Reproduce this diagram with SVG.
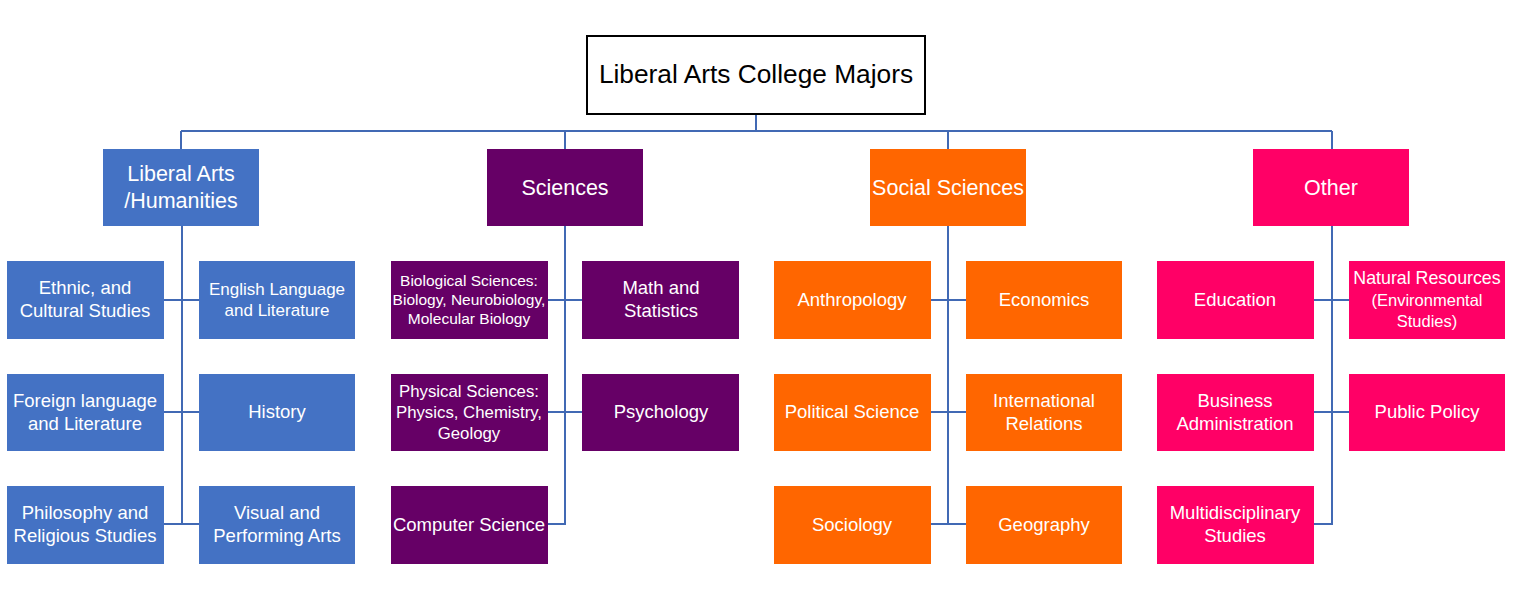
<svg xmlns="http://www.w3.org/2000/svg" width="1517" height="600" viewBox="0 0 1517 600">
<style>
text{font-family:"Liberation Sans",Arial,sans-serif;fill:#fff;text-anchor:middle}
.c{font-size:18.5px}
.cat{font-size:21.5px}
.blue{fill:#4472C4}
.purple{fill:#660066}
.orange{fill:#FF6600}
.pink{fill:#FF0066}
.conn{fill:none;stroke:#4169B4;stroke-width:2}
</style>
<rect width="1517" height="600" fill="#fff"/>
<g id="connectors" class="conn">
<path d="M756 115V131M181 131H1332M181 131V149M565 131V149M948 131V149M1332 131V149"/>
<path d="M182 226V524M164 300H199M164 412H199M164 524H199"/>
<path d="M565 226V524H548M548 300H582M548 412H582"/>
<path d="M948 226V524M931 300H966M931 412H966M931 524H966"/>
<path d="M1332 226V524H1314M1314 300H1349M1314 412H1349"/>
</g>
<g id="root"><rect x="587" y="36" width="338" height="78" fill="#fff" stroke="#000" stroke-width="2"/><text x="756" y="83" style="fill:#000;font-size:26.3px">Liberal Arts College Majors</text></g>
<g id="cat-liberal"><rect class="blue" x="103" y="149" width="156" height="77"/><text class="cat" x="181" y="181">Liberal Arts</text><text class="cat" x="181" y="208">/Humanities</text></g>
<g id="cat-sciences"><rect class="purple" x="487" y="149" width="156" height="77"/><text class="cat" x="565" y="195">Sciences</text></g>
<g id="cat-social"><rect class="orange" x="870" y="149" width="156" height="77"/><text class="cat" x="948" y="195">Social Sciences</text></g>
<g id="cat-other"><rect class="pink" x="1253" y="149" width="156" height="77"/><text class="cat" x="1331" y="195">Other</text></g>

<g id="ethnic"><rect class="blue" x="7" y="261" width="157" height="78"/><text class="c" x="85" y="294">Ethnic, and</text><text class="c" x="85" y="317">Cultural Studies</text></g>
<g id="english"><rect class="blue" x="199" y="261" width="156" height="78"/><text x="277" y="295" style="font-size:17px">English Language</text><text x="277" y="316" style="font-size:17px">and Literature</text></g>
<g id="foreign"><rect class="blue" x="7" y="374" width="157" height="77"/><text class="c" x="85" y="407">Foreign language</text><text class="c" x="85" y="430">and Literature</text></g>
<g id="history"><rect class="blue" x="199" y="374" width="156" height="77"/><text class="c" x="277" y="418">History</text></g>
<g id="philosophy"><rect class="blue" x="7" y="486" width="157" height="78"/><text class="c" x="85" y="519">Philosophy and</text><text class="c" x="85" y="542">Religious Studies</text></g>
<g id="visual"><rect class="blue" x="199" y="486" width="156" height="78"/><text class="c" x="277" y="519">Visual and</text><text class="c" x="277" y="542">Performing Arts</text></g>

<g id="bio"><rect class="purple" x="391" y="261" width="157" height="78"/><text x="469" y="286" style="font-size:15.5px">Biological Sciences:</text><text x="469" y="305" style="font-size:15.5px">Biology, Neurobiology,</text><text x="469" y="324" style="font-size:15.5px">Molecular Biology</text></g>
<g id="math"><rect class="purple" x="582" y="261" width="157" height="78"/><text class="c" x="661" y="294">Math and</text><text class="c" x="661" y="317">Statistics</text></g>
<g id="physical"><rect class="purple" x="391" y="374" width="157" height="77"/><text x="469" y="397" style="font-size:16.8px">Physical Sciences:</text><text x="469" y="418" style="font-size:16.8px">Physics, Chemistry,</text><text x="469" y="439" style="font-size:16.8px">Geology</text></g>
<g id="psychology"><rect class="purple" x="582" y="374" width="157" height="77"/><text class="c" x="661" y="418">Psychology</text></g>
<g id="computer"><rect class="purple" x="391" y="486" width="157" height="78"/><text class="c" x="469" y="531">Computer Science</text></g>

<g id="anthropology"><rect class="orange" x="774" y="261" width="157" height="78"/><text class="c" x="852" y="306">Anthropology</text></g>
<g id="economics"><rect class="orange" x="966" y="261" width="156" height="78"/><text class="c" x="1044" y="306">Economics</text></g>
<g id="political"><rect class="orange" x="774" y="374" width="157" height="77"/><text class="c" x="852" y="418">Political Science</text></g>
<g id="international"><rect class="orange" x="966" y="374" width="156" height="77"/><text class="c" x="1044" y="407">International</text><text class="c" x="1044" y="430">Relations</text></g>
<g id="sociology"><rect class="orange" x="774" y="486" width="157" height="78"/><text class="c" x="852" y="531">Sociology</text></g>
<g id="geography"><rect class="orange" x="966" y="486" width="156" height="78"/><text class="c" x="1044" y="531">Geography</text></g>

<g id="education"><rect class="pink" x="1157" y="261" width="157" height="78"/><text class="c" x="1235" y="306">Education</text></g>
<g id="natural"><rect class="pink" x="1349" y="261" width="156" height="78"/><text x="1427" y="284" style="font-size:17.8px">Natural Resources</text><text x="1427" y="306" style="font-size:16.5px">(Environmental</text><text x="1427" y="327" style="font-size:16.5px">Studies)</text></g>
<g id="business"><rect class="pink" x="1157" y="374" width="157" height="77"/><text class="c" x="1235" y="407">Business</text><text class="c" x="1235" y="430">Administration</text></g>
<g id="publicpolicy"><rect class="pink" x="1349" y="374" width="156" height="77"/><text class="c" x="1427" y="418">Public Policy</text></g>
<g id="multi"><rect class="pink" x="1157" y="486" width="157" height="78"/><text class="c" x="1235" y="519">Multidisciplinary</text><text class="c" x="1235" y="542">Studies</text></g>
</svg>
